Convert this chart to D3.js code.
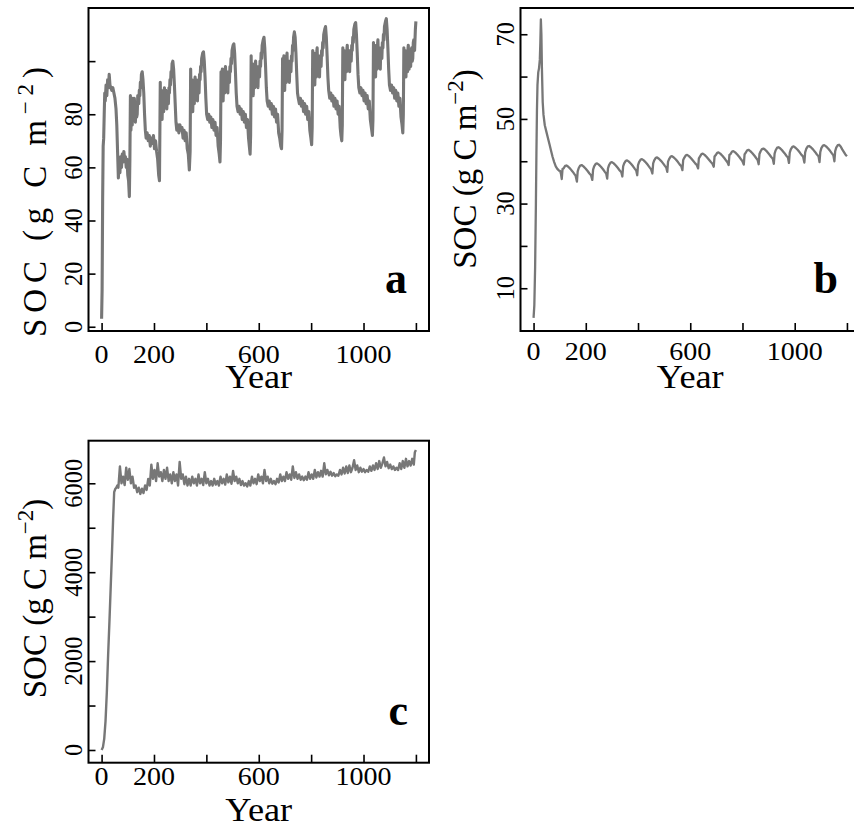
<!DOCTYPE html>
<html>
<head>
<meta charset="utf-8">
<script src="https://cdn.jsdelivr.net/npm/d3@7"></script>
<style>
body { margin: 0; background: #fff; }
svg text { font-family: "Liberation Serif", "Times New Roman", serif; fill: #000; }
</style>
</head>
<body>
<svg id="chart" width="854" height="833"></svg>
<script>
// SOC series, [year, g C m-2]
const socA = [
  [0,3],[2,14],[4,48],[6,68],[8,71],[10,80],[12,88],[14,85],[17,91],[20,87],[23,93],[26,90],[29,95],[32,91],[35,90],[39,89],[43,90],[47,88],[51,86],[55,82],[58,76],[61,66],[64,56],[67,61],[70,58],[73,64],[76,60],[79,65],[82,62],[85,66],[88,63],[91,64],[94,60],[97,63],[100,57],[103,55],[106,49],
  [108,63],[110,87],[111,78],[112,74],[114,83],[115,77],[117,76],[118,84],[120,86],[121,80],[123,79],[125,86],[126,84],[128,78],[129,77],[131,84],[132,82],[134,79],[136,80],[138,87],[140,86],[142,84],[144,89],[146,87],[148,92],[150,90],[152,95],[155,96],[158,93],[161,88],[164,80],[167,74],[170,71],[174,73],[178,70],[182,72],[186,68],[190,71],[194,69],[198,72],[202,67],[206,70],[210,66],[214,63],[218,57],[221,55],
  [224,92],[225,84],[226,80],[227,88],[228,89],[230,80],[231,78],[233,86],[234,87],[236,82],[237,81],[239,89],[240,90],[242,84],[243,83],[245,89],[246,88],[248,83],[249,82],[251,88],[253,87],[255,84],[257,90],[259,88],[261,93],[263,91],[265,96],[267,94],[269,99],[272,100],[275,97],[278,91],[281,84],[284,77],[287,74],[291,76],[295,73],[299,76],[303,74],[307,75],[311,71],[315,74],[319,70],[323,73],[327,67],[331,65],[335,59],
  [338,66],[340,97],[341,90],[342,85],[344,92],[345,93],[347,84],[348,81],[350,90],[351,91],[353,86],[354,84],[356,93],[357,94],[359,88],[360,86],[362,93],[363,92],[365,87],[366,85],[368,92],[370,91],[372,88],[374,95],[376,93],[378,98],[380,96],[382,101],[386,103],[389,103.5],[392,100],[395,94],[398,86],[401,80],[405,78],[409,80],[413,77],[417,79],[421,75],[425,78],[429,74],[433,77],[437,72],[441,75],[445,68],[449,65],[452,62],
  [454,70],[456,96],[457,90],[458,86],[460,95],[461,97],[463,88],[464,85],[466,93],[467,94],[469,89],[470,88],[472,97],[473,98],[475,91],[476,89],[478,96],[479,95],[481,90],[482,88],[484,96],[486,95],[488,92],[490,98],[492,96],[494,101],[496,99],[498,104],[502,106],[505,106.5],[508,103],[511,96],[514,88],[517,83],[521,81],[525,83],[529,80],[533,82],[537,78],[541,81],[545,77],[549,80],[553,75],[557,78],[561,71],[564,68],[567,65],
  [569,72],[571,102],[572,94],[573,89],[575,98],[576,99],[578,90],[579,87],[581,96],[582,97],[584,91],[585,90],[587,99],[588,100],[590,93],[591,91],[593,98],[594,97],[596,92],[597,90],[599,98],[601,97],[603,94],[605,100],[607,98],[609,103],[611,101],[613,106],[617,108],[620,109],[623,105],[626,98],[629,90],[632,85],[636,83],[640,85],[644,82],[648,84],[652,80],[656,83],[660,79],[664,82],[668,77],[672,80],[676,73],[680,71],[684,68],[687,67],
  [689,74],[691,101],[692,95],[693,91],[695,101],[696,102],[698,92],[699,89],[701,98],[702,99],[704,93],[705,92],[707,102],[708,103],[710,95],[711,93],[713,100],[714,99],[716,94],[717,92],[719,100],[721,99],[723,96],[725,102],[727,100],[729,106],[731,104],[733,109],[736,111],[739,109],[742,103],[745,95],[748,88],[751,86],[755,84],[759,86],[763,83],[767,85],[771,81],[775,84],[779,80],[783,83],[787,78],[791,81],[795,74],[799,71],[802,68.5],
  [804,75],[806,104],[807,97],[808,93],[810,102],[811,103],[813,94],[814,91],[816,100],[817,101],[819,95],[820,94],[822,104],[823,105],[825,97],[826,95],[828,102],[829,101],[831,96],[832,94],[834,102],[836,101],[838,98],[840,104],[842,102],[844,107],[846,105],[848,110],[852,112],[855,113],[858,109],[861,102],[864,94],[867,89],[871,86],[875,88],[879,85],[883,87],[887,83],[891,86],[895,82],[899,85],[903,80],[907,83],[911,75],[914,72],[917,70],
  [919,76],[921,105],[922,99],[923,95],[925,103],[926,104],[928,96],[929,93],[931,102],[932,103],[934,97],[935,96],[937,105],[938,106],[940,99],[941,97],[943,104],[944,103],[946,98],[947,96],[949,104],[951,103],[953,100],[955,106],[957,104],[959,109],[961,107],[963,112],[967,114],[970,114.5],[973,110],[976,103],[979,95],[982,90],[986,88],[990,90],[994,87],[998,89],[1002,85],[1006,88],[1010,84],[1014,87],[1018,82],[1022,85],[1026,78],[1030,75],[1034,72],
  [1036,78],[1038,107],[1039,100],[1040,96],[1042,105],[1043,106],[1045,97],[1046,94],[1048,103],[1049,104],[1051,98],[1052,97],[1054,107],[1055,108],[1057,100],[1058,98],[1060,105],[1061,104],[1063,99],[1064,97],[1066,105],[1068,104],[1070,101],[1072,107],[1074,105],[1076,110],[1078,108],[1080,113],[1084,115],[1087,116],[1090,112],[1093,105],[1096,97],[1099,91],[1103,89],[1107,91],[1111,88],[1115,90],[1119,86],[1123,89],[1127,85],[1131,88],[1135,83],[1139,86],[1143,79],[1147,76],[1150,73],
  [1152,80],[1154,105],[1155,99],[1156,95],[1158,103],[1159,104],[1161,97],[1162,94],[1164,102],[1165,103],[1167,98],[1168,96],[1170,105],[1171,106],[1173,99],[1174,97],[1176,103],[1177,104],[1179,99],[1180,98],[1182,104],[1184,105],[1186,100],[1188,101],[1190,107],[1192,108],[1195,104],[1198,112],[1200,115]
];

const socB = [
  [0,3],[3,6],[6,15],[9,30],[11,42],[13,52],[15,58],[18,61],[21,62],[24,64],[26,68],[28,73.5],[30,70],[32,62],[35,54],[38,51],[43,48.5],[49,47],[55,45.5],[61,44],[67,42.5],[73,41],[79,39.8],[85,38.8],[91,38.2],[97,37.8],[102,37.7],[105,37],
  [108,35.8],[111,38.2],[115,38.3],[121,38.9],[126,39.0],[133,38.7],[141,38.2],[149,37.6],[156,37.0],[161,36.6],
  [166,35.2],[169,37.6],[173,38.4],[179,39.0],[184,39.1],[191,38.8],[199,38.3],[207,37.7],[214,37.1],[220,36.7],
  [225,35.6],[228,38.0],[232,38.8],[238,39.4],[243,39.5],[250,39.2],[258,38.7],[266,38.1],[273,37.5],[278,37.1],
  [282,35.9],[285,38.3],[289,39.1],[295,39.7],[300,39.8],[307,39.5],[315,39.0],[323,38.4],[330,37.8],[336,37.4],
  [340,36.4],[343,38.8],[347,39.5],[353,40.1],[358,40.2],[365,39.9],[373,39.4],[381,38.8],[388,38.2],[393,37.8],
  [397,36.7],[400,39.1],[404,39.8],[410,40.4],[415,40.5],[422,40.2],[430,39.7],[438,39.1],[445,38.5],[450,38.1],
  [455,37.1],[458,39.5],[462,40.2],[468,40.8],[473,40.9],[480,40.6],[488,40.1],[496,39.5],[503,38.9],[508,38.5],
  [512,37.5],[515,39.9],[519,40.5],[525,41.1],[530,41.2],[537,40.9],[545,40.4],[553,39.8],[560,39.2],[566,38.8],
  [570,37.9],[573,40.3],[577,40.8],[583,41.4],[588,41.5],[595,41.2],[603,40.7],[611,40.1],[619,39.5],[625,39.1],
  [630,38.3],[633,40.7],[637,41.1],[643,41.7],[648,41.8],[655,41.5],[663,41.0],[671,40.4],[679,39.8],[685,39.4],
  [690,38.7],[693,41.1],[697,41.4],[703,42.0],[708,42.1],[715,41.8],[723,41.3],[731,40.7],[738,40.1],[743,39.7],
  [747,39.1],[750,41.5],[754,41.7],[760,42.3],[765,42.4],[772,42.1],[780,41.6],[788,41.0],[795,40.4],[800,40.0],
  [805,39.2],[808,41.6],[812,42.0],[818,42.6],[823,42.7],[830,42.4],[838,41.9],[846,41.3],[853,40.7],[858,40.3],
  [862,39.3],[865,41.7],[869,42.3],[875,42.9],[880,43.0],[887,42.7],[895,42.2],[903,41.6],[910,41.0],[916,40.6],
  [920,39.4],[923,41.8],[927,42.6],[933,43.2],[938,43.3],[945,43.0],[953,42.5],[961,41.9],[968,41.3],[974,40.9],
  [978,39.6],[981,42.0],[985,42.8],[991,43.4],[996,43.5],[1003,43.2],[1011,42.7],[1019,42.1],[1026,41.5],[1032,41.1],
  [1037,39.7],[1040,42.1],[1044,42.9],[1050,43.5],[1055,43.6],[1062,43.3],[1070,42.8],[1078,42.2],[1085,41.6],[1091,41.2],
  [1095,39.8],[1098,42.2],[1102,43.1],[1108,43.7],[1113,43.8],[1120,43.5],[1128,43.0],[1136,42.4],[1143,41.8],[1148,41.4],
  [1152,40.0],[1155,42.4],[1159,43.2],[1165,43.8],[1170,43.9],[1176,43.5],[1182,42.8],[1188,42.2],[1194,41.6],[1200,41.2]
];

const socC = [
  [0,0],[5,60],[10,250],[15,650],[20,1300],[25,2150],[30,2900],[35,3700],[40,4500],[44,5200],[48,5800],[52,5870],[56,5900],[60,5950],[64,5900],
  [70,6380],[76,6000],[82,6150],[88,5960],[94,6350],[100,6080],[106,6320],[112,6000],[118,6150],[124,5900],[130,5950],[136,5800],[142,5900],[148,5760],[154,5880],[160,5780],[166,5950],[172,5850],[178,6100],[184,5950],[190,6420],[196,6100],
  [202,6300],[208,6050],[214,6450],[220,6150],[226,6250],[232,6050],[238,6300],[244,6100],[250,6350],[256,6050],[262,6200],[268,6000],[274,6250],[280,6050],[286,6200],[292,5950],[298,6480],
  [304,6100],[310,6200],[316,5980],[322,6150],[328,5950],[334,6100],[340,5950],[346,6150],[352,6000],[358,6100],[364,5950],[370,6200],[376,6000],[382,6100],[388,5960],[394,6250],
  [400,6000],[406,6100],[412,5950],[418,6050],[424,5950],[430,6100],[436,5970],[442,6050],[448,5950],[454,6150],[460,6000],[466,6100],[472,5970],[478,6200],[484,6020],[490,6150],[496,5990],
  [502,6280],[508,6050],[514,6150],[520,6000],[526,6100],[532,5960],[538,6050],[544,5950],[550,6000],[556,5930],[562,6050],[568,5950],[574,6150],[580,6000],[586,6100],[592,5980],[598,6200],
  [604,6050],[610,6150],[616,6000],[622,6300],[628,6050],[634,6150],[640,6000],[646,6100],[652,5990],[658,6050],[664,5980],[670,6100],[676,6020],[682,6200],[688,6050],[694,6150],
  [700,6050],[706,6250],[712,6100],[718,6200],[724,6080],[730,6380],[736,6120],[742,6250],[748,6100],[754,6200],[760,6080],[766,6150],[772,6070],[778,6150],[784,6080],[790,6250],[796,6100],
  [802,6200],[808,6100],[814,6300],[820,6130],[826,6250],[832,6150],[838,6280],[844,6150],[850,6450],[856,6200],[862,6300],[868,6180],[874,6260],[880,6170],[886,6230],[892,6160],[898,6200],
  [904,6170],[910,6300],[916,6200],[922,6350],[928,6220],[934,6380],[940,6230],[946,6400],[952,6250],[958,6350],[964,6520],[970,6300],[976,6400],[982,6250],[988,6350],[994,6260],
  [1000,6320],[1006,6250],[1012,6300],[1018,6260],[1024,6380],[1030,6280],[1036,6400],[1042,6300],[1048,6450],[1054,6320],[1060,6500],[1066,6350],[1072,6450],[1078,6580],[1084,6380],[1090,6480],[1096,6340],
  [1102,6420],[1108,6320],[1114,6380],[1120,6300],[1126,6350],[1132,6300],[1138,6450],[1144,6320],[1150,6500],[1156,6350],[1162,6550],[1168,6380],[1174,6500],[1180,6400],[1186,6550],[1192,6420],[1196,6700],[1200,6750]
];

const xTicks = [0, 200, 400, 600, 800, 1000, 1200];
const xTickLabels = [0, 200, 600, 1000];
const yTicksA = [0, 20, 40, 60, 80, 100];
const yLabelsA = [0, 20, 40, 60, 80];
const yTicksB = [10, 20, 30, 40, 50, 60, 70];
const yLabelsB = [10, 30, 50, 70];
const yTicksC = [0, 1000, 2000, 3000, 4000, 5000, 6000];
const yLabelsC = [0, 2000, 4000, 6000];

const svg = d3.select("#chart");

function drawPanel(p) {
    const x = d3.scaleLinear().domain([-50, 1250]).range([p.left, p.right]);
    const y = d3.scaleLinear().domain(p.yDomain).range([p.bottom, p.top]);
    const g = svg.append("g");

    const line = d3.line().x(d => x(d[0])).y(d => y(d[1]));
    g.append("path")
        .datum(p.data)
        .attr("fill", "none")
        .attr("stroke", "#777")
        .attr("stroke-width", p.lineWidth)
        .attr("stroke-linejoin", "round")
        .attr("d", line);

    // ticks point inwards
    g.append("g")
        .attr("transform", `translate(0,${p.bottom})`)
        .call(d3.axisBottom(x).tickValues(xTicks).tickSizeInner(-8).tickSizeOuter(0).tickFormat(""))
        .call(a => a.select(".domain").remove())
        .selectAll("line").attr("stroke-width", 1.6);

    g.append("g")
        .attr("transform", `translate(${p.left},0)`)
        .call(d3.axisLeft(y).tickValues(p.yTicks).tickSizeInner(-7).tickSizeOuter(0).tickFormat(""))
        .call(a => a.select(".domain").remove())
        .selectAll("line").attr("stroke-width", 1.6);

    g.append("rect")
        .attr("x", p.left).attr("y", p.top)
        .attr("width", p.right - p.left).attr("height", p.bottom - p.top)
        .attr("fill", "none").attr("stroke", "#000").attr("stroke-width", 2);

    g.selectAll(".xlab")
        .data(xTickLabels)
        .join("text")
        .attr("transform", d => `translate(${x(d)},${p.bottom + p.xLabGap}) scale(1.1,1)`)
        .attr("text-anchor", "middle")
        .attr("font-size", 25.5)
        .text(d => d);

    g.selectAll(".ylab")
        .data(p.yLabels)
        .join("text")
        .attr("transform", d => `translate(${p.left - 7},${y(d)}) rotate(-90)`)
        .attr("text-anchor", "middle")
        .attr("font-size", 24.5)
        .text(d => d);

    g.append("text")
        .attr("transform", `translate(${(p.left + p.right) / 2},${p.bottom + p.yearGap}) scale(1.1,1)`)
        .attr("text-anchor", "middle")
        .attr("font-size", 33)
        .text("Year");

    const title = g.append("text")
        .attr("transform", `translate(${p.titleX},${p.titleY}) rotate(-90)`)
        .attr("text-anchor", "middle")
        .attr("font-size", 33);
    if (p.titleLen) title.attr("textLength", p.titleLen).attr("lengthAdjust", "spacing");
    title.append("tspan").text("SOC (g C m");
    title.append("tspan").attr("dy", -13).attr("font-size", 23).text("\u22122");
    title.append("tspan").attr("dy", 13).text(")");

    g.append("text")
        .attr("x", p.letterX)
        .attr("y", p.letterY)
        .attr("text-anchor", "end")
        .attr("font-size", 44)
        .attr("font-weight", "bold")
        .text(p.letter);
}

drawPanel({
    data: socA, letter: "a", yDomain: [-1.6, 120], yTicks: yTicksA, yLabels: yLabelsA,
    left: 88.5, right: 429, top: 8, bottom: 331, lineWidth: 3.1,
    xLabGap: 31.5, yearGap: 57, titleX: 45.5, titleY: 202, titleLen: 270,
    letterX: 407, letterY: 293
});

drawPanel({
    data: socB, letter: "b", yDomain: [-0.1, 76.2], yTicks: yTicksB, yLabels: yLabelsB,
    left: 520.5, right: 860, top: 8, bottom: 331, lineWidth: 2.3,
    xLabGap: 29, yearGap: 57, titleX: 476, titleY: 169, titleLen: 0,
    letterX: 838, letterY: 293
});

drawPanel({
    data: socC, letter: "c", yDomain: [-286, 6958], yTicks: yTicksC, yLabels: yLabelsC,
    left: 88.5, right: 429, top: 440.7, bottom: 762.7, lineWidth: 2.4,
    xLabGap: 22.3, yearGap: 58, titleX: 46, titleY: 598.5, titleLen: 0,
    letterX: 408, letterY: 725
});
</script>
</body>
</html>
